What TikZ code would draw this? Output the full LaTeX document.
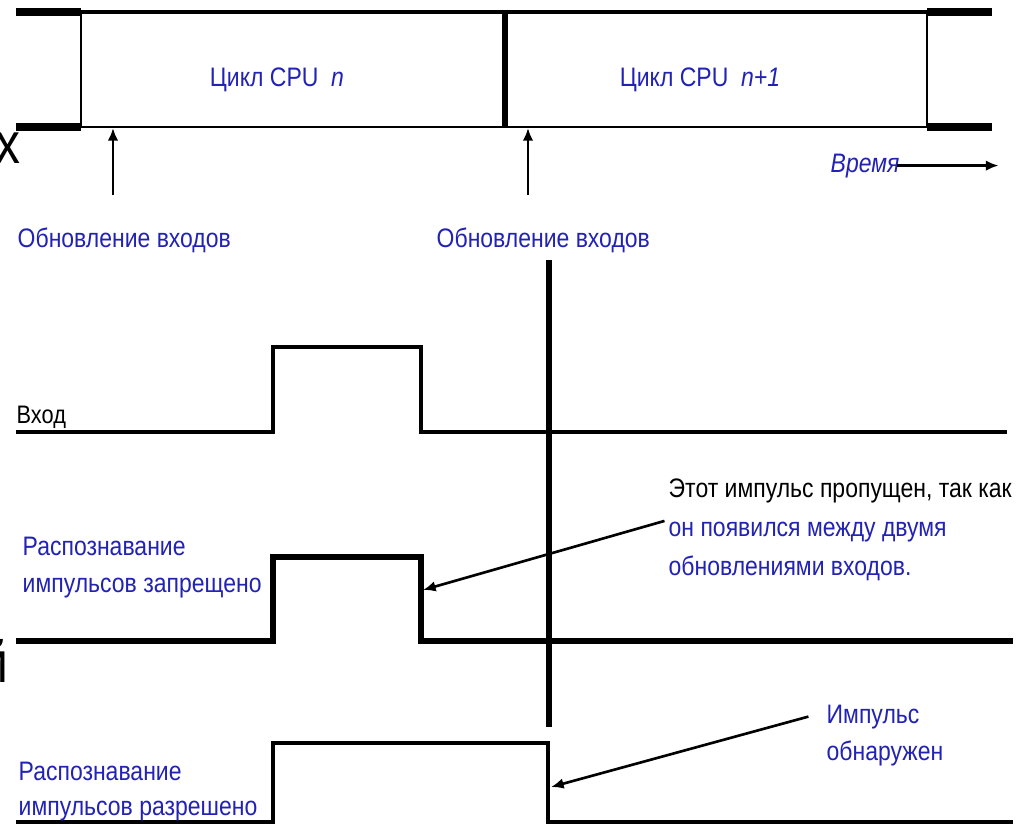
\documentclass[tikz,border=0pt]{standalone}
\usepackage{fontspec}
\setmainfont{Liberation Sans}[FakeStretch=0.86]
\usetikzlibrary{arrows.meta}

\definecolor{labelblue}{RGB}{34,34,180}

\def \thinLine {0.75pt}
\def \midLine {1.15pt}
\def \thickLine {1.8pt}

\begin{document}
\begin{tikzpicture}[x=0.01cm, y=-0.01cm,
    lbl/.style={inner sep=0pt, anchor=base west, text=labelblue,
      font=\fontsize{7.6}{10}\selectfont},
    pointer/.style={line width=\thinLine, -{Latex[length=3.6pt,width=3pt]}}]
   \clip (0,0) rectangle (1023,826);
   \fill[white] (0,0) rectangle (1023,826);

   % CPU cycles
   \draw[line width=1.4pt] (16,12) -- (992,12);
   \draw[line width=2pt] (16,12) -- (81,12) (927,12) -- (992,12);
   \draw[line width=2pt] (16,127) -- (81,127) (927,127) -- (992,127);
   \draw[line width=0.7pt] (81,127) -- (927,127);
   \draw[line width=\thinLine] (81,12) -- (81,127) (927,12) -- (927,127);
   \draw[line width=1.7pt] (505,12) -- (505,127);
   \node[lbl, anchor=base] (cycleA) at (277,86) {Цикл CPU~~\textit{n}};
   \node[lbl, anchor=base] (cycleB) at (700,86) {Цикл CPU~~\textit{n+1}};

   % input updates
   \coordinate (updA) at (113,128);
   \coordinate (updAtail) at (113,195);
   \coordinate (updB) at (528,128);
   \coordinate (updBtail) at (528,195);
   \draw[pointer] (updAtail) -- (updA);
   \draw[pointer] (updBtail) -- (updB);
   \node[lbl] (updAtext) at (17,247) {Обновление входов};
   \node[lbl] (updBtext) at (436,247) {Обновление входов};

   \node[lbl, font=\fontsize{7.6}{10}\selectfont\itshape] (timeLbl) at (830,172) {Время};
   \draw[pointer] ([xshift=-1pt]timeLbl.east) -- ++(102,0);

   % signals
   \draw[line width=\midLine] (16,432) -- (273,432) -- (273,347) -- (421,347) -- (421,432) -- (1007,432);
   \draw[line width=\thickLine] (16,641) -- (273,641) -- (273,557) -- (421,557) -- (421,641) -- (1013,641);
   \draw[line width=\midLine] (16,822) -- (273,822) -- (273,743) -- (548,743) -- (548,822) -- (1013,822);
   \draw[line width=1.6pt] (549,260) -- (549,727);
   \coordinate (missEdge) at (423,590);
   \coordinate (catchEdge) at (551,787);

   \node[lbl, text=black, font=\fontsize{7.2}{10}\selectfont] (inLbl) at (16,423) {Вход};
   \node[lbl] (offLblA) at (22,555) {Распознавание};
   \node[lbl] (offLblB) at (22,592) {импульсов запрещено};
   \node[lbl] (onLblA) at (18,780) {Распознавание};
   \node[lbl] (onLblB) at (18,815) {импульсов разрешено};

   % notes
   \node[lbl, text=black] (missA) at (668,497) {Этот импульс пропущен, так как};
   \node[lbl] (missB) at (668,536) {он появился между двумя};
   \node[lbl] (missC) at (668,575) {обновлениями входов.};
   \draw[pointer] ([xshift=-1pt]missB.north west) -- (missEdge);

   \node[lbl] (catchA) at (826,723) {Импульс};
   \node[lbl] (catchB) at (826,760) {обнаружен};
   \draw[pointer] ([xshift=-5pt]catchA.west) -- (catchEdge);

   % cut-off letters at the left edge
   \node[inner sep=0pt, anchor=base east, font=\fontsize{16.5}{18}\selectfont] (cutX) at (21,163) {х};
   \node[inner sep=0pt, anchor=base east, font=\fontsize{16.5}{18}\selectfont] (cutY) at (9,682) {й};
\end{tikzpicture}
\end{document}
